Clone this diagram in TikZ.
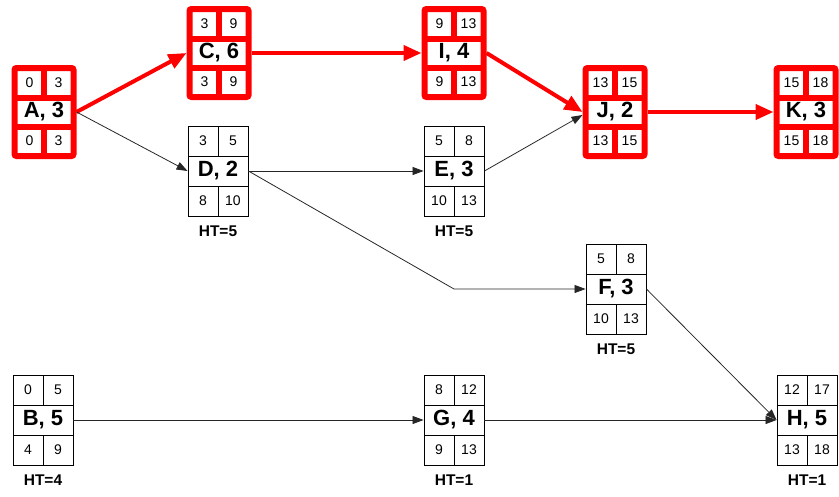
\documentclass[tikz,border=0pt]{standalone}
\usepackage{fontspec}
\setmainfont{Liberation Sans}
\usetikzlibrary{arrows.meta,calc}
\tikzset{
  blk/.style={draw=black, line width=0.9pt, minimum width=60pt, minimum height=90pt, inner sep=0pt},
  blkline/.style={draw=black, line width=0.9pt},
  rbox/.style={draw=red, line width=6pt, rounded corners=2pt, minimum width=59pt, minimum height=88pt, inner sep=0pt},
  rline/.style={draw=red, line width=6pt},
  num/.style={font=\fontsize{14}{14}\selectfont, inner sep=0pt},
  lbl/.style={font=\fontsize{22}{22}\selectfont\bfseries, inner sep=0pt},
  htl/.style={font=\fontsize{15.5}{15.5}\selectfont\bfseries, inner sep=0pt},
  barrow/.style={draw=black!85, line width=0.8pt, -{Triangle[length=11pt,width=8pt]}},
  rarrow/.style={draw=red, line width=4pt, -{Triangle[length=18pt,width=15pt]}}
}
\newcommand\blknode[9]{%
  \node[blk] (#1) at (#2,#3) {};
  \draw[blkline] ([shift={(-30,-15)}]#1.center) -- ++(60,0);
  \draw[blkline] ([shift={(-30,15)}]#1.center) -- ++(60,0);
  \draw[blkline] ([shift={(0,-45)}]#1.center) -- ++(0,30);
  \draw[blkline] ([shift={(0,15)}]#1.center) -- ++(0,30);
  \node[num] at ([shift={(-15,-30)}]#1.center) {#5};
  \node[num] at ([shift={(15,-30)}]#1.center) {#6};
  \node[num] at ([shift={(-15,30)}]#1.center) {#7};
  \node[num] at ([shift={(15,30)}]#1.center) {#8};
  \node[lbl] at (#1.center) {#4};
  \node[htl] at ([shift={(0,60)}]#1.center) {HT=#9};
}
\newcommand\rednode[8]{%
  \node[rbox] (#1) at (#2,#3) {};
  \draw[rline] ([shift={(-29.5,-14.5)}]#1.center) -- ++(59,0);
  \draw[rline] ([shift={(-29.5,14.5)}]#1.center) -- ++(59,0);
  \draw[rline] ([shift={(0,-44)}]#1.center) -- ++(0,29.5);
  \draw[rline] ([shift={(0,14.5)}]#1.center) -- ++(0,29.5);
  \node[num] at ([shift={(-14.5,-29)}]#1.center) {#5};
  \node[num] at ([shift={(14.5,-29)}]#1.center) {#6};
  \node[num] at ([shift={(-14.5,29)}]#1.center) {#7};
  \node[num] at ([shift={(14.5,29)}]#1.center) {#8};
  \node[lbl] at (#1.center) {#4};
}
\begin{document}
\begin{tikzpicture}[x=1pt,y=-1pt]
\useasboundingbox (0,0) rectangle (839,496);
\rednode{A}{44}{112}{A, 3}{0}{3}{0}{3}
\rednode{C}{219}{53}{C, 6}{3}{9}{3}{9}
\rednode{I}{454}{53}{I, 4}{9}{13}{9}{13}
\rednode{J}{615}{112}{J, 2}{13}{15}{13}{15}
\rednode{K}{806}{112}{K, 3}{15}{18}{15}{18}
\blknode{D}{218}{171}{D, 2}{3}{5}{8}{10}{5}
\blknode{E}{454}{171}{E, 3}{5}{8}{10}{13}{5}
\blknode{F}{616}{289}{F, 3}{5}{8}{10}{13}{5}
\blknode{B}{43}{420}{B, 5}{0}{5}{4}{9}{4}
\blknode{G}{454}{420}{G, 4}{8}{12}{9}{13}{1}
\blknode{H}{807}{420}{H, 5}{12}{17}{13}{18}{1}
% critical path
\draw[rarrow] (A.east) -- (C.west);
\draw[rarrow] (C.east) -- (I.west);
\draw[rarrow] (I.east) -- (J.west);
\draw[rarrow] (J.east) -- (K.west);
% other arrows
\draw[barrow] (A.east) -- (D.west);
\draw[barrow] (D.east) -- (E.west);
\draw[barrow] (D.east) -- (E.center |- F.west) -- (F.west);
\draw[barrow] (E.east) -- ([yshift=-3pt]J.west);
\draw[barrow] (F.east) -- (H.west);
\draw[barrow] (B.east) -- (G.west);
\draw[barrow] (G.east) -- (H.west);
\end{tikzpicture}
\end{document}
